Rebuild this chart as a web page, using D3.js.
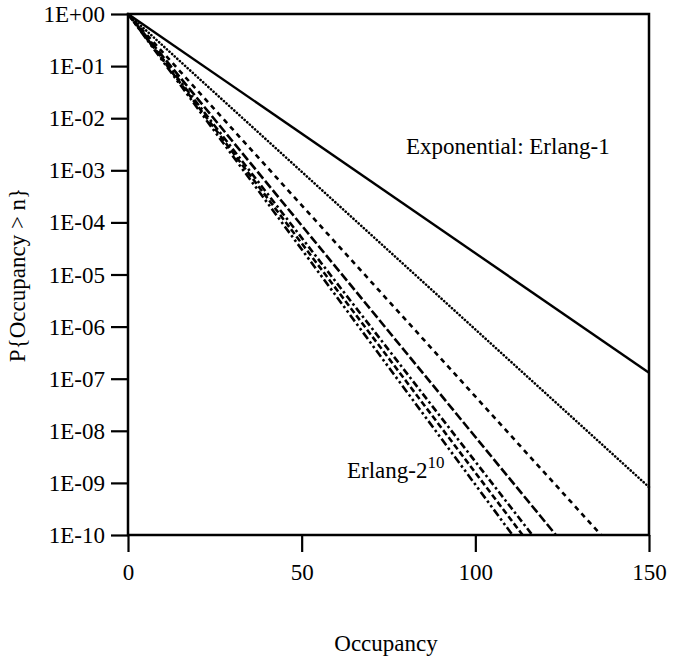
<!DOCTYPE html>
<html><head><meta charset="utf-8">
<script src="https://cdn.jsdelivr.net/npm/d3@7"></script>
<style>body{margin:0;background:#fff}svg{display:block}text{font-family:"Liberation Serif","Times New Roman",serif;fill:#000}</style>
</head><body>
<svg id="c" width="673" height="659"></svg>
<script>
const xTicks = [0, 50, 100, 150];
const yTicks = [1, 1e-1, 1e-2, 1e-3, 1e-4, 1e-5, 1e-6, 1e-7, 1e-8, 1e-9, 1e-10];
const yTickLabels = ["1E+00","1E-01","1E-02","1E-03","1E-04","1E-05","1E-06","1E-07","1E-08","1E-09","1E-10"];
const seriesNames = ["Erlang-1","Erlang-2","Erlang-4","Erlang-8","Erlang-16","Erlang-64","Erlang-1024"];
const seriesN = [[0,150],[0,150],[0,136.2],[0,123.2],[0,116.4],[0,113.6],[0,110.7]];
const seriesP = [[1,1.3e-7],[1,8.3e-10],[1,1e-10],[1,1e-10],[1,1e-10],[1,1e-10],[1,1e-10]];
const dashes = ["none","0.1,3.4","5,4.5","9,3","7,3,2.5,3","6,3","8,3,2.5,3,2.5,3"];
const widths = [2.4,2.6,2.6,2.6,2.6,2.6,2.6];

const svg = d3.select("#c");
const L=128, R=649, T=14, B=535;
const x = d3.scaleLinear().domain([0,150]).range([L,R]);
const y = d3.scaleLog().domain([1e-10,1]).range([B,T]);

// axes
const ya = svg.append("g").attr("transform",`translate(${L},0)`)
  .call(d3.axisLeft(y).tickValues(yTicks).tickSize(17).tickPadding(6).tickFormat((d,i)=>yTickLabels[i]));
const xa = svg.append("g").attr("transform",`translate(0,${B})`)
  .call(d3.axisBottom(x).tickValues(xTicks).tickSize(17).tickPadding(12));
[ya,xa].forEach(g=>{
  g.select(".domain").remove();
  g.selectAll(".tick line").attr("stroke","#000").attr("stroke-width",2.2);
  g.selectAll(".tick text").style("font-size","23px").style("font-family","'Liberation Serif',serif").attr("fill","#000");
});
ya.selectAll(".tick text").attr("dy","0.33em");

// frame
svg.append("rect").attr("x",L).attr("y",T).attr("width",R-L).attr("height",B-T)
  .attr("fill","none").attr("stroke","#000").attr("stroke-width",2.5);

// series
const line = d3.line().x(d=>x(d[0])).y(d=>y(d[1]));
seriesNames.forEach((nm,i)=>{
  const pts = seriesN[i].map((n,j)=>[n, seriesP[i][j]]);
  svg.append("path").attr("d",line(pts)).attr("fill","none").attr("stroke","#000")
    .attr("stroke-width",widths[i]).attr("stroke-dasharray",dashes[i])
    .attr("stroke-linecap", i==1 ? "round":"butt");
});

// annotations
svg.append("text").attr("x",406).attr("y",154).style("font-size","23px").text("Exponential: Erlang-1");
const t = svg.append("text").attr("x",347).attr("y",478).style("font-size","23px");
t.append("tspan").text("Erlang-2");
t.append("tspan").attr("dy",-10).style("font-size","17px").text("10");

// axis titles
svg.append("text").attr("x",386).attr("y",651).attr("text-anchor","middle").style("font-size","23px").text("Occupancy");
svg.append("text").attr("transform","translate(25,275) rotate(-90)").attr("text-anchor","middle").style("font-size","23px").text("P{Occupancy > n}");
</script>
</body></html>
